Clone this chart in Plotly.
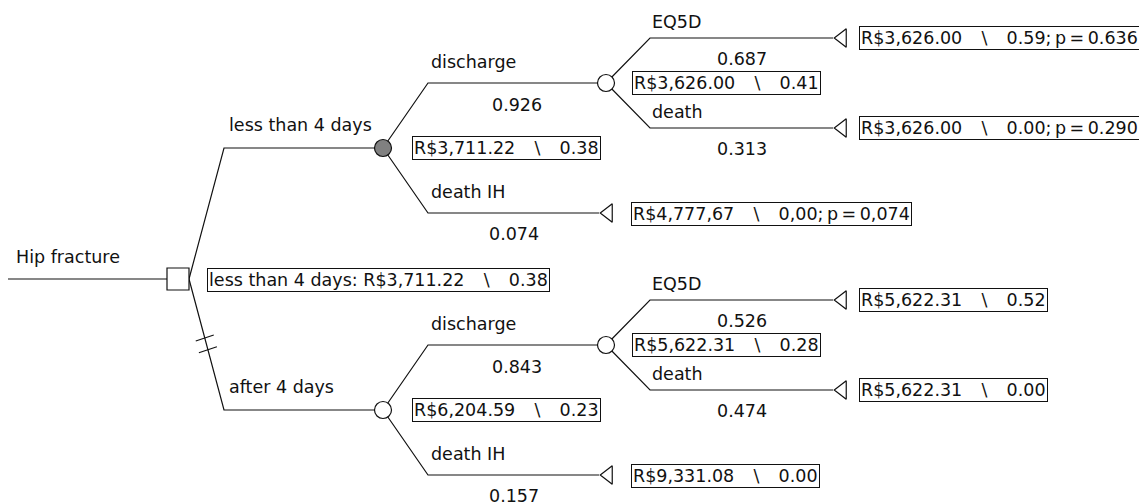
import math
import plotly.graph_objects as go

# ---------------- data ----------------
root_label = "Hip fracture"
decision_summary = "less than 4 days: R$3,711.22 \\ 0.38"
strategies = ["less than 4 days", "after 4 days"]
strategy_payoffs = ["R$3,711.22 \\ 0.38", "R$6,204.59 \\ 0.23"]
strategy_optimal = [True, False]
level2_labels = ["discharge", "death IH"]
level2_probs = [["0.926", "0.074"], ["0.843", "0.157"]]
discharge_payoffs = ["R$3,626.00 \\ 0.41", "R$5,622.31 \\ 0.28"]
death_ih_terminal = ["R$4,777,67 \\ 0,00; p = 0,074", "R$9,331.08 \\ 0.00"]
level3_labels = ["EQ5D", "death"]
level3_probs = [["0.687", "0.313"], ["0.526", "0.474"]]
terminal_payoffs = [["R$3,626.00 \\ 0.59; p = 0.636", "R$3,626.00 \\ 0.00; p = 0.290"],
                    ["R$5,622.31 \\ 0.52", "R$5,622.31 \\ 0.00"]]

# ---------------- layout geometry (pixels of the page) ----------------
W, H = 1147, 503
OFF = 8            # default page margin around the plot div
FONT = "DejaVu Sans"
FS = 17.5
LW = 1.2
X_ROOT0 = 7
X_DEC = 178
DEC_HALF = 11
X_L1 = 224
X_N1 = 383
X_L2 = 428
X_N2 = 606
X_L3 = 650
TRI = 16
TRI_R = TRI / 2
TRI_RT = TRI_R * 2 / math.sqrt(3)
X_TIP2 = 599
X_TIP3 = 833
Y_ROOT = 279
DY1, DY2, DY3 = 131, 65, 45
NODE_R = 8
SEP = "\u2003\u200a\\\u200a\u2003"   # wide typographic spacing around the backslash
TS = "\u2009"                          # thin space used in the "; p = " part

lx, ly = [], []
def seg(pts):
    for p in pts:
        lx.append(p[0]); ly.append(p[1])
    lx.append(None); ly.append(None)

ann = []
def text(x, y, s, anchor="left", box=False):
    if box:
        s = s.replace(" \\ ", SEP).replace("; p = ", ";" + TS + "p" + TS + "=" + TS)
    d = dict(x=x, y=y, text=s, showarrow=False, xanchor=anchor, yanchor="middle",
             font=dict(family=FONT, size=FS, color="#111"))
    if box:
        d.update(bordercolor="#111", borderwidth=1, borderpad=1, bgcolor="white")
    ann.append(d)

chance_x, chance_y, chance_fill = [], [], []
tri_x, tri_y = [], []

# root
seg([(X_ROOT0, Y_ROOT), (X_DEC, Y_ROOT)])
text(14, Y_ROOT - 22, root_label)
text(207, Y_ROOT + 1, decision_summary, box=True)

for i, strat in enumerate(strategies):
    y1 = Y_ROOT + (-DY1 if i == 0 else DY1)
    seg([(X_DEC + DEC_HALF, Y_ROOT), (X_L1, y1), (X_N1, y1)])
    text(X_L1 + 3, y1 - 23, strat)
    if not strategy_optimal[i]:
        # pruned-branch marks
        for f in (0.45, 0.54):
            cx = X_DEC + DEC_HALF + (X_L1 - X_DEC - DEC_HALF) * f
            cy = Y_ROOT + (y1 - Y_ROOT) * f
            seg([(cx - 9, cy + 3), (cx + 9, cy - 3)])
    chance_x.append(X_N1); chance_y.append(y1)
    chance_fill.append("#808080" if i == 0 else "white")
    text(X_N1 + 29, y1, strategy_payoffs[i], box=True)

    for j, lab in enumerate(level2_labels):
        y2 = y1 + (-DY2 if j == 0 else DY2)
        if j == 0:
            seg([(X_N1, y1), (X_L2, y2), (X_N2, y2)])
            chance_x.append(X_N2); chance_y.append(y2); chance_fill.append("white")
            text(X_N2 + 26, y2, discharge_payoffs[i], box=True)
            text((X_L2 + X_N2) / 2, y2 + 22, level2_probs[i][j], anchor="center")
            for k, lab3 in enumerate(level3_labels):
                y3 = y2 + (-DY3 if k == 0 else DY3)
                seg([(X_N2, y2), (X_L3, y3), (X_TIP3, y3)])
                tri_x.append(X_TIP3 + TRI_RT); tri_y.append(y3)
                text(X_L3, y3 - 16, lab3)
                text((X_L3 + X_TIP3) / 2, y3 + 21, level3_probs[i][k], anchor="center")
                text(X_TIP3 + 26, y3, terminal_payoffs[i][k], box=True)
        else:
            seg([(X_N1, y1), (X_L2, y2), (X_TIP2, y2)])
            tri_x.append(X_TIP2 + TRI_RT); tri_y.append(y2)
            text((X_L2 + X_TIP2) / 2, y2 + 21, level2_probs[i][j], anchor="center")
            text(X_TIP2 + 32, y2 + 1, death_ih_terminal[i], box=True)
        text(X_L2 + 1, y2 - 21, lab)

fig = go.Figure()
fig.add_trace(go.Scatter(x=lx, y=ly, mode="lines", line=dict(color="#111", width=LW),
                         hoverinfo="skip"))
fig.add_trace(go.Scatter(x=[X_DEC], y=[Y_ROOT], mode="markers",
                         marker=dict(symbol="square", size=2 * DEC_HALF, color="white",
                                     line=dict(color="#111", width=LW)), hoverinfo="skip"))
fig.add_trace(go.Scatter(x=chance_x, y=chance_y, mode="markers",
                         marker=dict(symbol="circle", size=2 * NODE_R + 1, color=chance_fill,
                                     line=dict(color="#111", width=LW)), hoverinfo="skip"))
fig.add_trace(go.Scatter(x=tri_x, y=tri_y, mode="markers",
                         marker=dict(symbol="triangle-left", size=TRI, color="white",
                                     line=dict(color="#111", width=LW)), hoverinfo="skip"))

fig.update_layout(
    width=W - OFF, height=H - OFF, margin=dict(l=0, r=0, t=0, b=0),
    paper_bgcolor="white", plot_bgcolor="white", showlegend=False,
    xaxis=dict(range=[OFF, W], visible=False, fixedrange=True),
    yaxis=dict(range=[H, OFF], visible=False, fixedrange=True),
    annotations=ann,
)
fig.write_html("out.html")
